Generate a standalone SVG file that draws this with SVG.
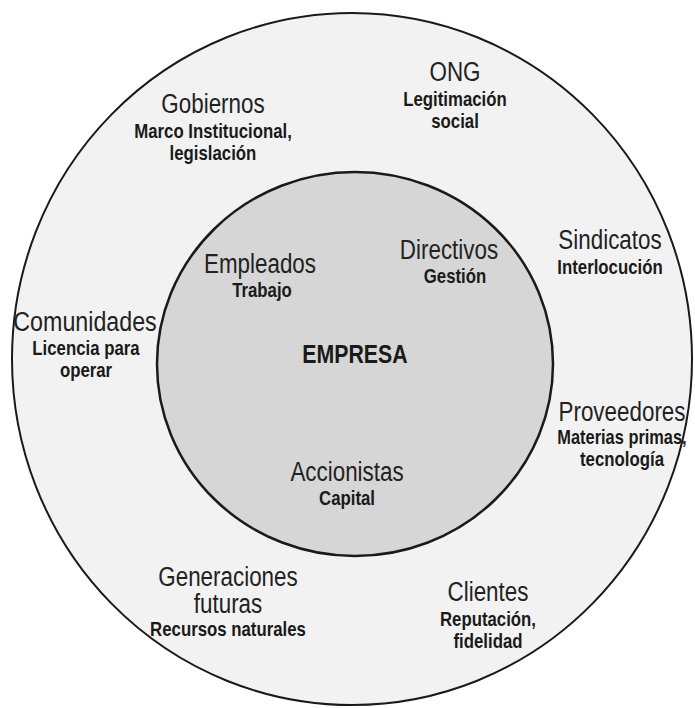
<svg xmlns="http://www.w3.org/2000/svg" width="695" height="708" viewBox="0 0 695 708">
<style>
.t{font-family:"Liberation Sans",Arial,sans-serif;font-size:28px;fill:#222;text-anchor:middle}
.s{font-family:"Liberation Sans",Arial,sans-serif;font-size:20px;font-weight:bold;fill:#1a1a1a;text-anchor:middle}
.e{font-family:"Liberation Sans",Arial,sans-serif;font-size:26px;font-weight:bold;fill:#1a1a1a;text-anchor:middle}
</style>
<rect width="695" height="708" fill="#ffffff"/>
<g id="outer">
<ellipse cx="352" cy="359" rx="340" ry="346" fill="#f2f2f2" stroke="#1a1a1a" stroke-width="2"/>
</g>
<g id="inner">
<ellipse cx="355" cy="364" rx="198" ry="192" fill="#d6d6d6" stroke="#1a1a1a" stroke-width="2.5"/>
</g>
<g id="ong"><text class="t" transform="translate(455,81) scale(0.8,1)">ONG</text><text class="s" transform="translate(455,106) scale(0.84,1)">Legitimación</text><text class="s" transform="translate(455,128) scale(0.84,1)">social</text></g>
<g id="gobiernos"><text class="t" transform="translate(213,113) scale(0.8,1)">Gobiernos</text><text class="s" transform="translate(213,138) scale(0.84,1)">Marco Institucional,</text><text class="s" transform="translate(213,160) scale(0.84,1)">legislación</text></g>
<g id="sindicatos"><text class="t" transform="translate(610,249) scale(0.8,1)">Sindicatos</text><text class="s" transform="translate(610,274) scale(0.84,1)">Interlocución</text></g>
<g id="directivos"><text class="t" transform="translate(449,259) scale(0.8,1)">Directivos</text><text class="s" transform="translate(455,283) scale(0.84,1)">Gestión</text></g>
<g id="empleados"><text class="t" transform="translate(260,273) scale(0.8,1)">Empleados</text><text class="s" transform="translate(262,297) scale(0.84,1)">Trabajo</text></g>
<g id="comunidades"><text class="t" transform="translate(85,331) scale(0.83,1)">Comunidades</text><text class="s" transform="translate(86,355) scale(0.84,1)">Licencia para</text><text class="s" transform="translate(86,377) scale(0.84,1)">operar</text></g>
<g id="empresa"><text class="e" transform="translate(355,363) scale(0.82,1)">EMPRESA</text></g>
<g id="proveedores"><text class="t" transform="translate(622,421) scale(0.8,1)">Proveedores</text><text class="s" transform="translate(622,444) scale(0.82,1)">Materias primas,</text><text class="s" transform="translate(622,466) scale(0.84,1)">tecnología</text></g>
<g id="accionistas"><text class="t" transform="translate(347,481) scale(0.8,1)">Accionistas</text><text class="s" transform="translate(347,505) scale(0.84,1)">Capital</text></g>
<g id="generaciones"><text class="t" transform="translate(228,586) scale(0.8,1)">Generaciones</text><text class="t" transform="translate(228,613) scale(0.8,1)">futuras</text><text class="s" transform="translate(228,636) scale(0.84,1)">Recursos naturales</text></g>
<g id="clientes"><text class="t" transform="translate(488,601) scale(0.8,1)">Clientes</text><text class="s" transform="translate(488,626) scale(0.84,1)">Reputación,</text><text class="s" transform="translate(488,648) scale(0.84,1)">fidelidad</text></g>
</svg>
